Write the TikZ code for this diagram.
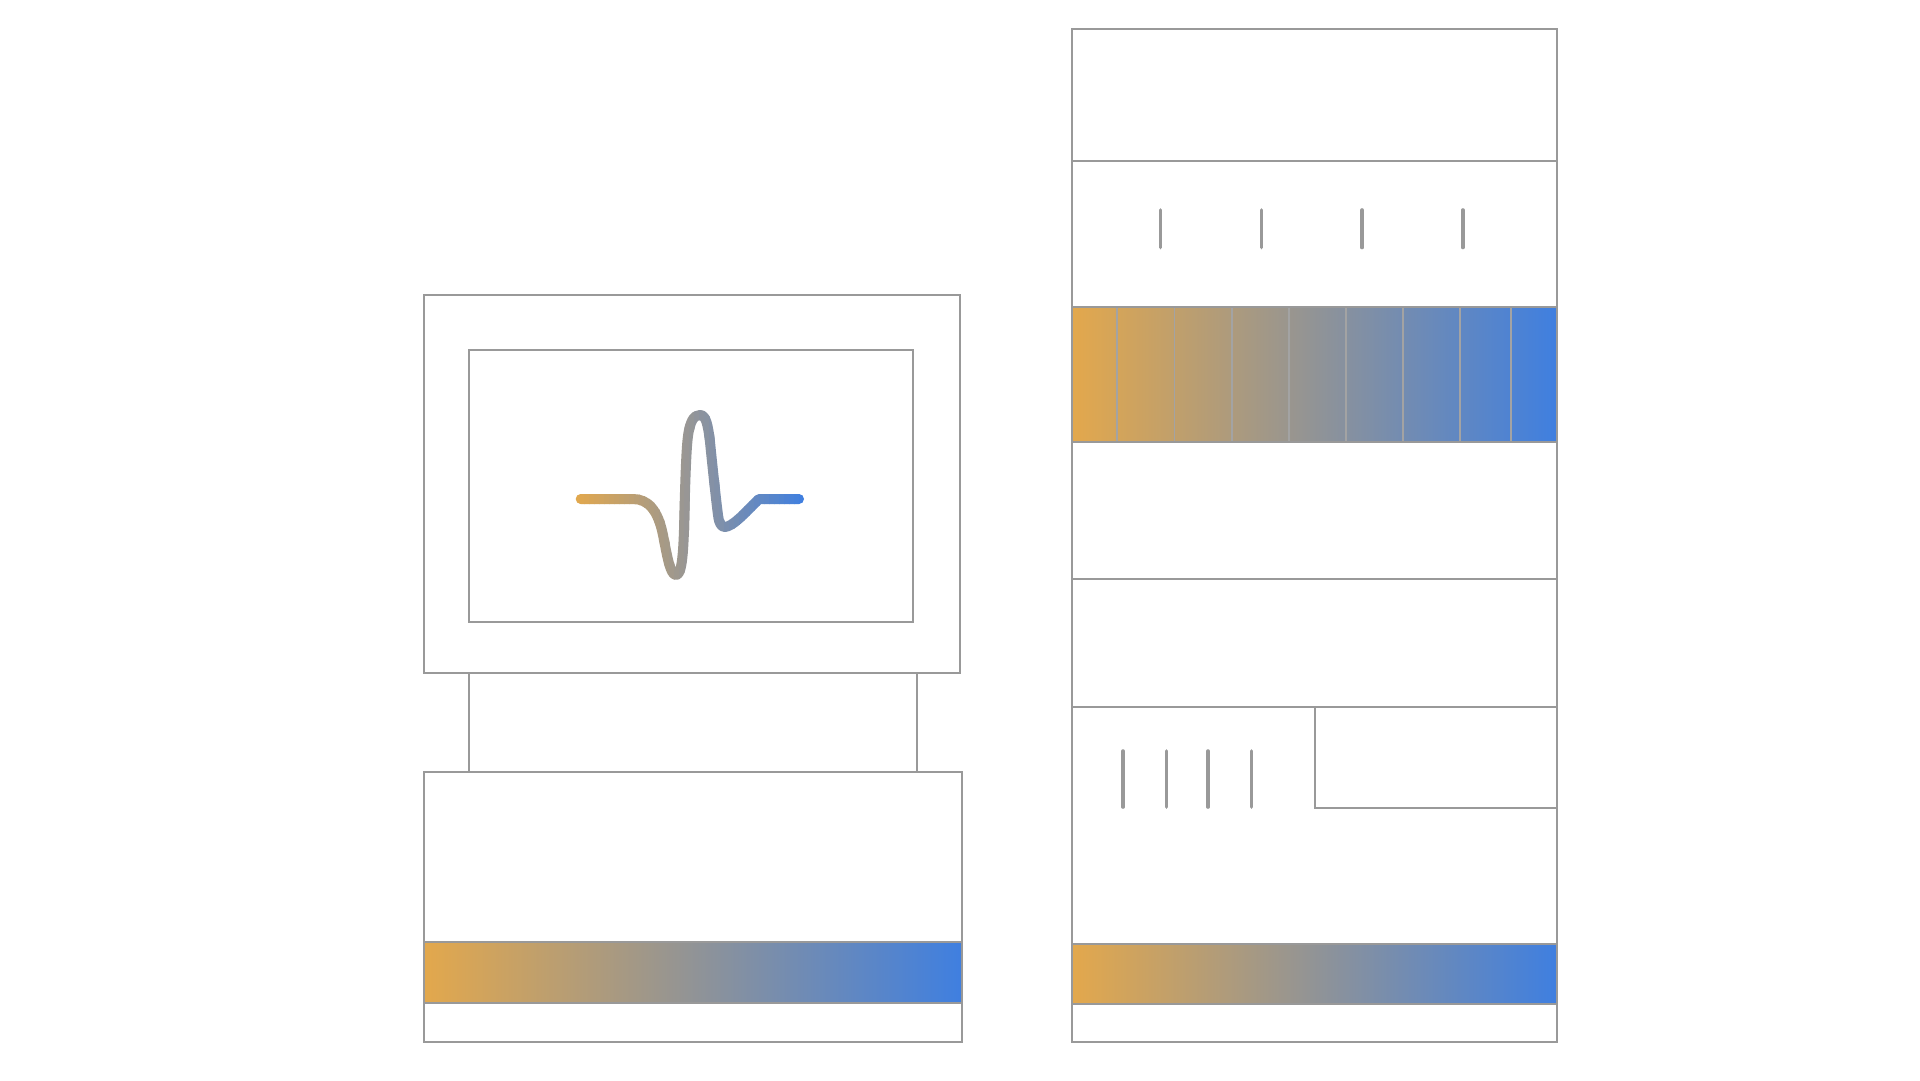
\documentclass[tikz,border=0pt]{standalone}
\definecolor{orng}{RGB}{227,168,76}
\definecolor{gry}{RGB}{150,150,150}
\definecolor{blu}{RGB}{63,127,224}
\definecolor{linec}{RGB}{153,153,153}
\tikzset{
  frame/.style={draw=linec, line width=2pt},
  gradbar/.style={left color=orng, middle color=gry, right color=blu},
  ticky/.style={draw=linec, line width=3.6pt, line cap=round},
  divider/.style={draw=linec!90, line width=1.3pt},
  wavestroke/.style={line width=10pt, line cap=round, line join=round}
}
\def\wavepath{(580.7,499) -- (633,499)
  .. controls (648,499) and (658,510) .. (663,535)
  .. controls (667,555) and (670,575) .. (676,575)
  .. controls (681,575) and (683,560) .. (684,530)
  .. controls (685,490) and (686,450) .. (688,436)
  .. controls (690,421) and (694,415) .. (700,415)
  .. controls (706,415) and (708,425) .. (710,442)
  .. controls (712,462) and (716,500) .. (718,515)
  .. controls (719,523) and (721,527) .. (725,527)
  .. controls (733,526) and (742,516) .. (759,499)
  -- (799,499)}
\begin{document}
\begin{tikzpicture}[x=1pt,y=-1pt]
\useasboundingbox[fill=white] (0,0) rectangle (1920,1080);

% ---------- left: monitor ----------
\fill[gradbar] (423.6,942) rectangle (962,1002.7);
\draw[frame] (423.6,295) rectangle (960,672.5);
\draw[frame] (468.6,350) rectangle (913.2,621.7);
\draw[frame] (469,672.5) -- (469,772);
\draw[frame] (916.8,672.5) -- (916.8,772);
\draw[frame] (423.6,772) rectangle (962,1041.7);
\draw[frame] (423.6,942) -- (962,942);
\draw[frame] (423.6,1002.7) -- (962,1002.7);

% wave with horizontal colour gradient
\foreach \i in {0,...,45}{
  \pgfmathsetmacro{\xa}{574+5*\i}
  \pgfmathtruncatemacro{\q}{round(200*(\i+0.5)/46)}
  \ifnum\q<100 \colorlet{wc}{gry!\q!orng}\else\pgfmathtruncatemacro{\qq}{\q-100}\colorlet{wc}{blu!\qq!gry}\fi
  \begin{scope}
    \clip (\xa,400) rectangle (\xa+5.7,600);
    \draw[wavestroke, draw=wc] \wavepath;
  \end{scope}
}

% ---------- right: rack ----------
\fill[gradbar] (1072,306.7) rectangle (1556.7,442.3);
\fill[gradbar] (1072,944) rectangle (1556.7,1004.3);
\foreach \x in {1117,1174.3,1232,1289,1346,1403,1460,1511}{
  \draw[divider] (\x,306.7) -- (\x,442.3);
}
\draw[frame] (1072,29) rectangle (1556.7,1041.7);
\foreach \y in {161,306.7,442.3,579,706.7,944,1004.3}{
  \draw[frame] (1072,\y) -- (1556.7,\y);
}
\draw[frame] (1315,706.7) -- (1315,807.7) -- (1556.7,807.7);
\foreach \x in {1160.3,1261.3,1362,1462.7}{
  \draw[ticky] (\x,210) -- (\x,247.5);
}
\foreach \x in {1123,1166.3,1208,1251.3}{
  \draw[ticky] (\x,751) -- (\x,807);
}
\end{tikzpicture}
\end{document}
